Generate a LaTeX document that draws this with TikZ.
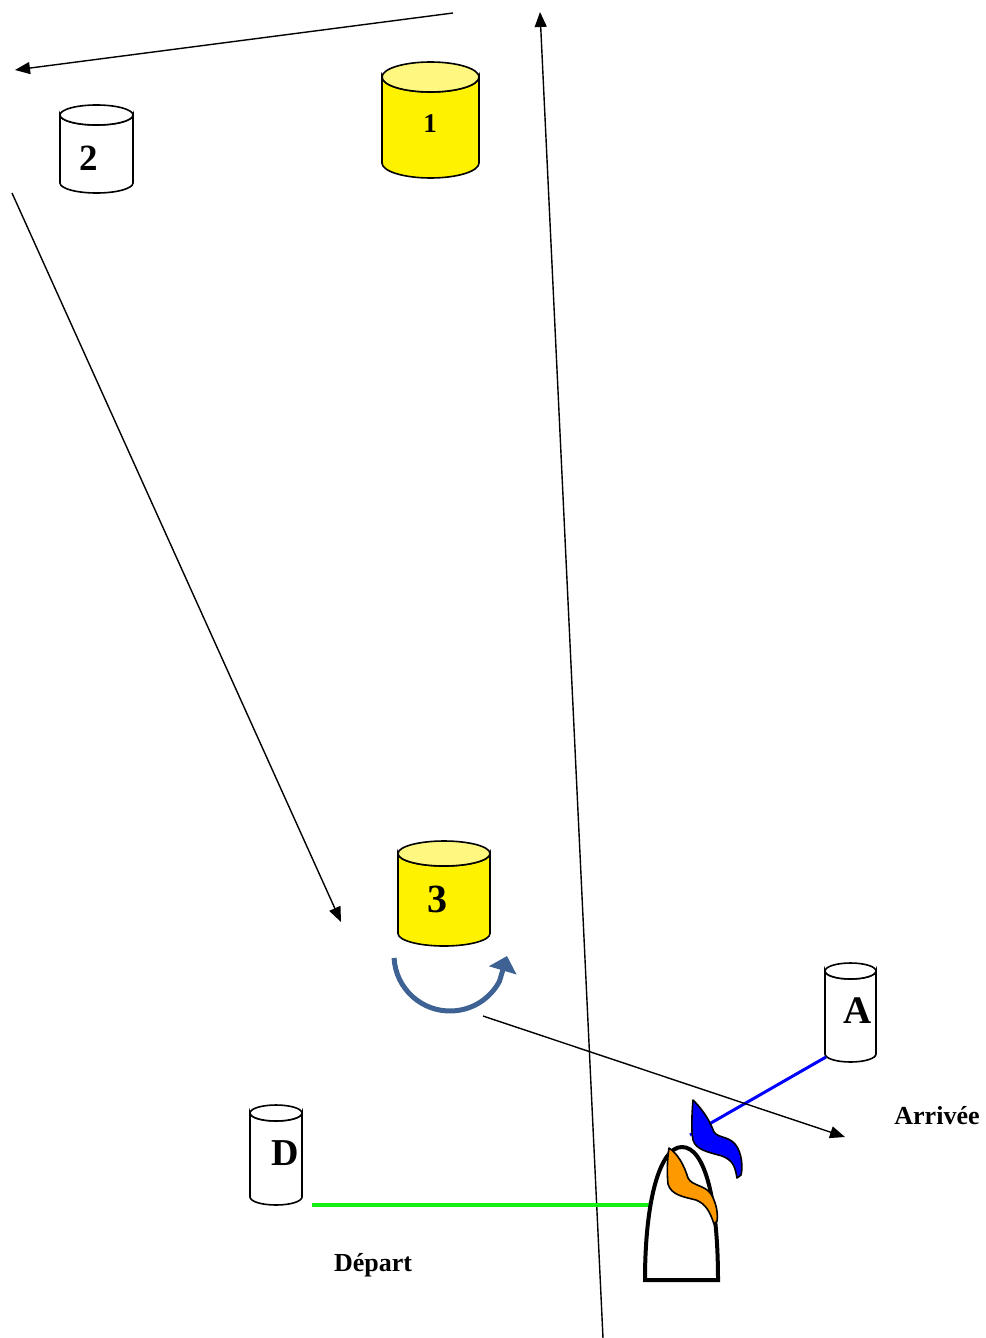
\documentclass[tikz,border=0pt]{standalone}
\usepackage{fontspec}
\setmainfont{Liberation Serif}
\usetikzlibrary{arrows.meta}

\definecolor{virage}{RGB}{62,98,148}
\definecolor{vert}{RGB}{20,240,20}
\definecolor{orangepav}{RGB}{255,153,0}

% bouée cylindrique : nom, x, y (centre), demi-largeur, demi-hauteur, demi-hauteur ellipse, couleur
\newcommand{\bouee}[7]{%
  \begin{scope}[shift={(#2,#3)}, line width=0.8pt]
    \coordinate (#1) at (0,0);
    \draw[fill=#7] (-#4,{-#5+#6}) -- (-#4,{#5-#6})
      arc[start angle=180, end angle=0, x radius=#4, y radius=#6]
      -- (#4,{-#5+#6})
      arc[start angle=0, end angle=180, x radius=#4, y radius=#6] -- cycle;
    \draw[fill=#7!50] (0,{-#5+#6}) ellipse[x radius=#4, y radius=#6];
  \end{scope}}

\begin{document}
\begin{tikzpicture}[
    x=0.5pt, y=-0.5pt,
    route/.style={
        -{Triangle[length=7.5pt, width=6pt]},
        line width=0.7pt
    },
    pavillon/.style={
        draw=black,
        line width=0.8pt,
        line join=round
    },
    etiquette/.style={
        font=\fontsize{13}{15}\selectfont\bfseries
    }
]
\useasboundingbox (0,0) rectangle (985,1338);

% === Bouées ===
\bouee{b1}{430.5}{120}{48.5}{58}{15}{yellow}
\bouee{b2}{96.5}{149}{36.5}{44}{10}{white}
\bouee{b3}{444}{893.5}{46}{52.5}{12.5}{yellow}
\bouee{bA}{850.5}{1012.5}{25.5}{49.5}{8}{white}
\bouee{bD}{276}{1155}{26}{50}{8}{white}

\node[font=\fontsize{13.5}{15}\selectfont\bfseries] (t1) at (430,124) {1};
\node[font=\fontsize{18.5}{20}\selectfont\bfseries] (t2) at (89,158) {2};
\node[font=\fontsize{20}{22}\selectfont\bfseries] (t3) at (437,899) {3};
\node[font=\fontsize{19.5}{22}\selectfont\bfseries] (tA) at (858,1011) {A};
\node[font=\fontsize{19}{22}\selectfont\bfseries] (tD) at (285,1153) {D};

% === Route ===
\coordinate (p0) at (453,13);
\coordinate (p1) at (15,70);
\coordinate (p2) at (12,193);
\coordinate (p3) at (341,922);
\coordinate (p4) at (483,1016);
\coordinate (p5) at (845,1137);
\coordinate (v0) at (603,1338);
\coordinate (v1) at (540,12);

\draw[route] (p0) -- (p1);
\draw[route] (p2) -- (p3);
\draw[route] (v0) -- (v1);

% virage autour de la 3
\coordinate (pointe) at (507,956);
\draw[virage, line width=2.5pt, -{Triangle[length=7.5pt, width=14pt]}]
    (450,955) ++(177:56) arc[start angle=177, end angle=28, radius=56] -- (pointe);

% === Lignes de départ et d'arrivée ===
\coordinate (amarre) at (826,1057);
\coordinate (pavA) at (690,1135);
\coordinate (ligneD) at (312,1205);
\coordinate (bord) at (651,1205);

\draw[blue, line width=1.5pt] (amarre) -- (pavA);
\draw[vert, line width=2pt] (ligneD) -- (bord);
\draw[route] (p4) -- (p5);

% === Bateau comité ===
\draw[line width=2pt, fill=white]
    (645,1280) .. controls (645,1200) and (660,1147) .. (682,1147)
    .. controls (705,1147) and (718,1200) .. (718,1280) -- cycle;

% pavillons
\draw[pavillon, fill=blue]
    (693,1100) .. controls (705,1112) and (710,1122) .. (714,1132)
    .. controls (718,1138) and (728,1136) .. (735,1144)
    .. controls (742,1152) and (743,1168) .. (741,1175) -- (737,1178)
    .. controls (735,1165) and (732,1160) .. (722,1156)
    .. controls (708,1152) and (696,1150) .. (693,1140)
    .. controls (691,1130) and (692,1112) .. (693,1100) -- cycle;
\draw[pavillon, fill=orangepav]
    (669,1148) .. controls (678,1154) and (684,1165) .. (688,1178)
    .. controls (692,1186) and (705,1185) .. (711,1194)
    .. controls (717,1204) and (718,1215) .. (717,1221) -- (714,1224)
    .. controls (710,1212) and (706,1204) .. (696,1200)
    .. controls (684,1197) and (671,1195) .. (668,1184)
    .. controls (667,1175) and (667,1160) .. (669,1148) -- cycle;

% === Textes ===
\node[etiquette] (arrivee) at (937,1116) {Arrivée};
\node[etiquette] (depart) at (373,1265) {Départ};

\end{tikzpicture}
\end{document}
